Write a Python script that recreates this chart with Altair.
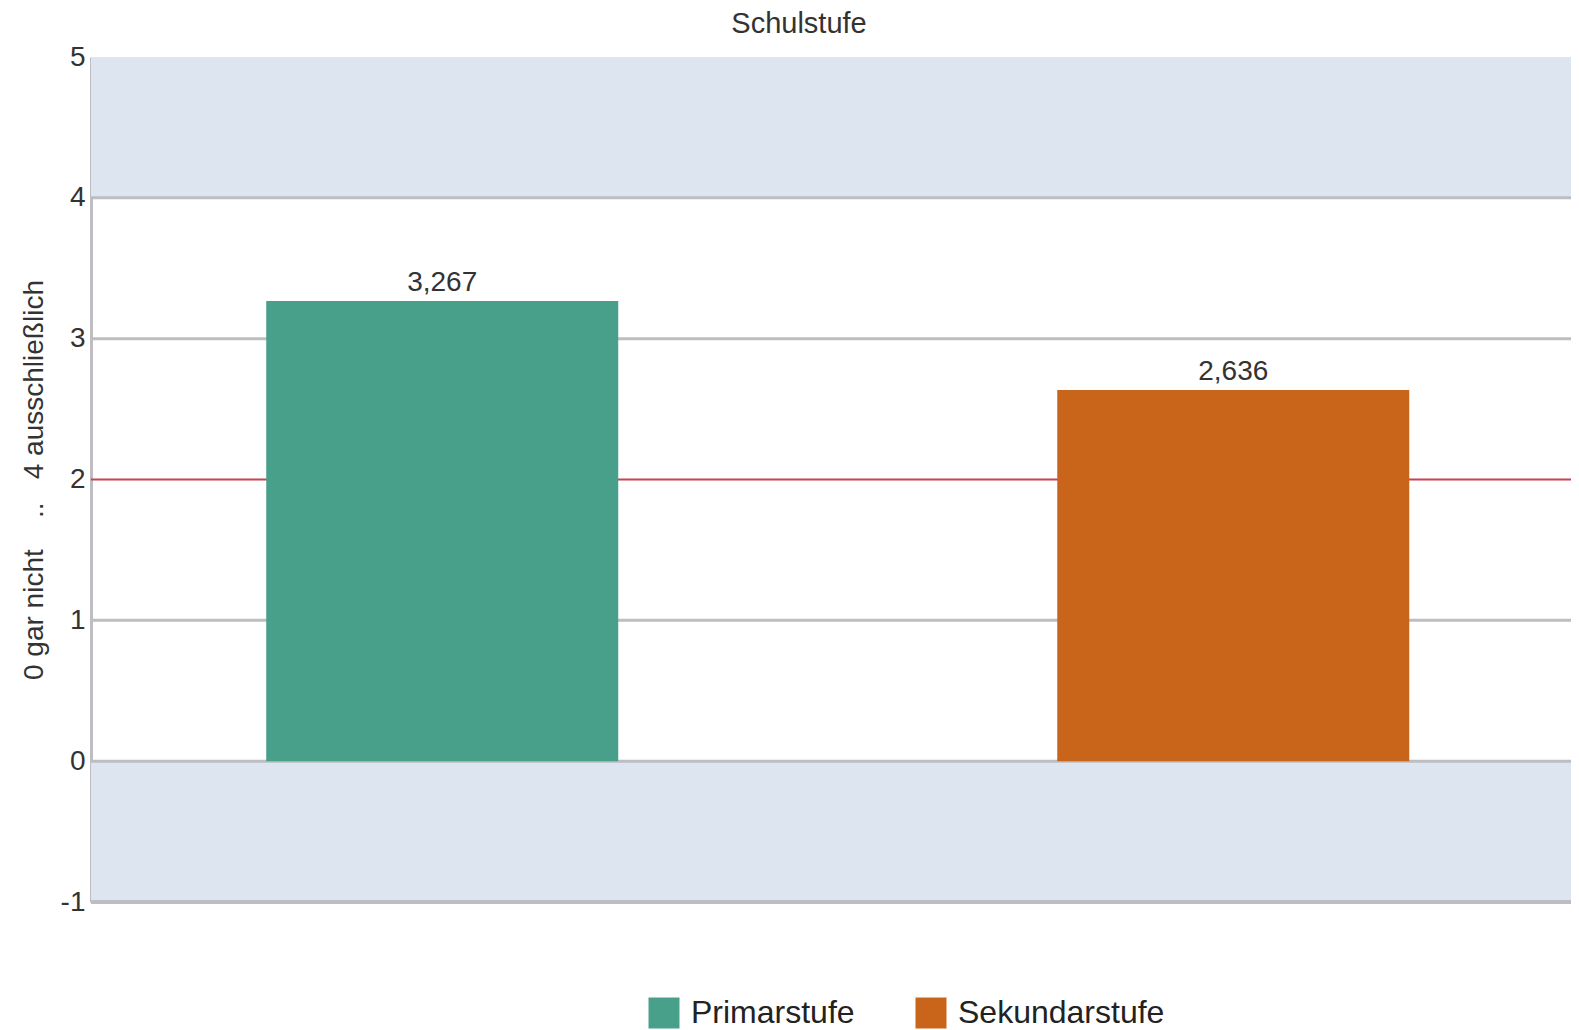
import altair as alt
import pandas as pd

# Data
categories = ["Primarstufe", "Sekundarstufe"]
values = [3.267, 2.636]
value_labels = ["3,267", "2,636"]
colors = ["#48a08a", "#c8651b"]

band_lo = [4, -1]
band_hi = [5, 0]
grid_values = [0, 1, 3, 4]
bottom_value = [-1]
reference_value = [2]
y_ticks = [-1, 0, 1, 2, 3, 4, 5]

NB = "\u00a0"
y_title = "0 gar nicht" + NB * 4 + ".." + NB * 3 + "4 ausschließlich"
x_title = "Schulstufe"

bars_df = pd.DataFrame({"Schulstufe": categories, "Wert": values, "Label": value_labels})
bands_df = pd.DataFrame({"lo": band_lo, "hi": band_hi})
grid_df = pd.DataFrame({"v": grid_values})
bottom_df = pd.DataFrame({"v": bottom_value})
ref_df = pd.DataFrame({"v": reference_value})

TEXT = "#333333"
FONT = "Liberation Sans"
W = 1480

yscale = alt.Scale(domain=[-1, 5], nice=False, zero=False)

bands = alt.Chart(bands_df).mark_rect(color="#dce5f0").encode(
    y=alt.Y("lo:Q", scale=yscale, axis=alt.Axis(
        title=y_title, values=y_ticks, labelExpr="'' + datum.value",
        grid=False, ticks=False, domain=True, domainColor="#bdbdc2", domainWidth=3,
        labelFontSize=28, labelColor=TEXT, labelPadding=6, labelFont=FONT,
        titleFontSize=28, titleColor=TEXT, titleFont=FONT, titleFontWeight="normal",
        titlePadding=12)),
    y2="hi:Q",
    x=alt.value(0), x2=alt.value(W),
)

grid = alt.Chart(grid_df).mark_rule(color="#bdbdc2", strokeWidth=3).encode(
    y=alt.Y("v:Q", scale=yscale), x=alt.value(0), x2=alt.value(W))

bottom = alt.Chart(bottom_df).mark_rule(color="#bdbdc2", strokeWidth=4).encode(
    y=alt.Y("v:Q", scale=yscale), x=alt.value(0), x2=alt.value(W))

ref = alt.Chart(ref_df).mark_rule(color="#c8434e", strokeWidth=2).encode(
    y=alt.Y("v:Q", scale=yscale), x=alt.value(0), x2=alt.value(W))

xenc = alt.X("Schulstufe:N", sort=categories,
             scale=alt.Scale(paddingInner=0.555, paddingOuter=0.213, align=0.52),
             axis=alt.Axis(orient="top", labels=False, ticks=False, domain=False, title=None))

bars = alt.Chart(bars_df).mark_bar().encode(
    x=xenc,
    y=alt.Y("Wert:Q", scale=yscale),
    y2=alt.datum(0),
    color=alt.Color("Schulstufe:N", sort=categories,
                    scale=alt.Scale(domain=categories, range=colors),
                    legend=alt.Legend(title=None, orient="none", legendX=557, legendY=940,
                                      direction="horizontal", symbolType="square",
                                      symbolSize=961, symbolStrokeWidth=0, symbolOpacity=1,
                                      labelFontSize=32, labelColor="#222222", labelFont=FONT,
                                      labelLimit=0, labelOffset=11, columnPadding=60, padding=0)),
)

labels = alt.Chart(bars_df).mark_text(baseline="bottom", dy=-4, fontSize=28, color=TEXT, font=FONT).encode(
    x=xenc,
    y=alt.Y("Wert:Q", scale=yscale),
    text="Label:N",
)

chart = alt.layer(bands, grid, bottom, ref, bars, labels).properties(
    width=W, height=845,
    title=alt.TitleParams(x_title, fontSize=29, color=TEXT, font=FONT, fontWeight="normal",
                          anchor="middle", dx=-32, offset=4),
    autosize=alt.AutoSizeParams(type="none"),
    padding={"left": 83, "top": 49, "right": 0, "bottom": 127},
).configure_view(stroke=None)

chart.save("out.html", embed_options={"renderer": "svg", "actions": False})
